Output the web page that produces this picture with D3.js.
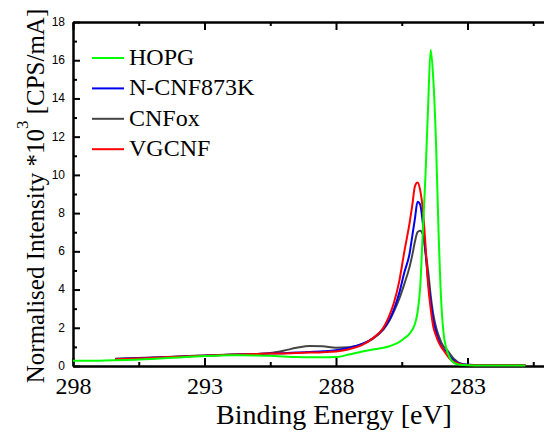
<!DOCTYPE html>
<html lang="en">
<head>
  <meta charset="UTF-8">
  <script src="https://cdn.jsdelivr.net/npm/d3@7"></script>
  <title>C1s spectra</title>
  <style>
    body { margin: 0; background: #fff; }
    svg { display: block; }
    .axis path, .axis line { stroke: #000; stroke-width: 2; }
    .axis text { fill: #000; }
    .xlab text { font-family: "Liberation Serif", "Times New Roman", serif; font-size: 24px; }
    .ylab text { font-family: "Liberation Sans", Arial, sans-serif; font-size: 12px; }
    .title { font-family: "Liberation Serif", "Times New Roman", serif; fill: #000; }
    .curve { fill: none; stroke-width: 2; stroke-linejoin: round; }
  </style>
</head>
<body>
  <script>
    // binding energy grid (eV), shared by all series
    const energy = [298, 297, 296.4, 295, 294, 293, 292, 291, 290.5, 290, 289.5, 289, 288.5, 288, 287.5, 287,
      286.6, 286.2, 286.0, 285.8, 285.6, 285.4, 285.2, 285.1, 285.0, 284.9, 284.8, 284.7, 284.6, 284.5,
      284.4, 284.3, 284.2, 284.1, 284.0, 283.9, 283.8, 283.7, 283.5, 283.3, 283.0, 282.5, 282, 281.5, 280.8];

    const hopg = [0.27, 0.28, 0.3, 0.37, 0.45, 0.52, 0.56, 0.55, 0.53, 0.5, 0.47, 0.46, 0.46, 0.47, 0.6, 0.76,
      0.86, 0.95, 1.02, 1.12, 1.25, 1.45, 1.7, 1.9, 2.2, 2.8, 4.1, 7.0, 9.9, 13.5,
      16.55, 15.0, 11.8, 7.0, 3.4, 1.6, 0.9, 0.5, 0.15, 0.07, 0.04, 0.03, 0.03, 0.03, 0.03];
    const ncnf = [null, null, 0.36, 0.43, 0.49, 0.54, 0.59, 0.63, 0.65, 0.67, 0.7, 0.73, 0.77, 0.83, 0.95, 1.15,
      1.45, 1.95, 2.35, 2.95, 3.8, 4.9, 5.9, 6.8, 7.7, 8.6, 8.45, 7.5, 6.0, 4.5,
      3.4, 2.4, 1.8, 1.35, 1.05, 0.85, 0.78, 0.55, 0.27, 0.13, 0.06, 0.04, 0.04, 0.04, 0.04];
    const cnfox = [null, null, 0.38, 0.44, 0.5, 0.55, 0.6, 0.63, 0.68, 0.8, 0.95, 1.05, 1.03, 0.96, 0.98, 1.15,
      1.42, 1.9, 2.3, 2.85, 3.5, 4.3, 5.2, 5.8, 6.5, 7.0, 7.08, 6.9, 6.0, 5.0,
      3.7, 2.7, 2.06, 1.6, 1.25, 1.0, 0.88, 0.7, 0.35, 0.15, 0.06, 0.05, 0.05, 0.05, 0.05];
    const vgcnf = [null, null, 0.35, 0.42, 0.49, 0.54, 0.59, 0.63, 0.65, 0.66, 0.68, 0.7, 0.72, 0.76, 0.88, 1.1,
      1.45, 2.0, 2.55, 3.3, 4.4, 6.0, 7.5, 8.4, 9.4, 9.6, 9.2, 8.2, 6.4, 4.3,
      3.0, 2.05, 1.6, 1.25, 1.0, 0.8, 0.6, 0.42, 0.22, 0.11, 0.05, 0.04, 0.04, 0.04, 0.04];

    const seriesNames = ["HOPG", "N-CNF873K", "CNFox", "VGCNF"];
    const seriesValues = [hopg, ncnf, cnfox, vgcnf];
    const seriesColors = ["#00ff00", "#0000ee", "#444444", "#ff0000"];
    const drawOrder = [2, 1, 3, 0];

    const xMajor = [298, 293, 288, 283];
    const xMinor = [295.5, 290.5, 285.5, 280.5];
    const yMajor = d3.range(0, 19, 2);
    const yMinor = d3.range(1, 18, 2);

    const width = 544, height = 435;
    const plotLeft = 73, plotTop = 22, plotBottom = 366;

    const x = d3.scaleLinear().domain([298, 278]).range([plotLeft, plotLeft + 20 * 26.3]);
    const y = d3.scaleLinear().domain([0, 18]).range([plotBottom, plotTop]);

    const svg = d3.select("body").append("svg")
      .attr("width", width).attr("height", height);

    // axes, ticks pointing inwards
    svg.append("g").attr("class", "axis xlab")
      .attr("transform", `translate(0,${plotBottom})`)
      .call(d3.axisBottom(x).tickValues(xMajor).tickSize(-8).tickSizeOuter(0).tickPadding(11).tickFormat(d3.format("d")));
    svg.append("g").attr("class", "axis")
      .attr("transform", `translate(0,${plotBottom})`)
      .call(d3.axisBottom(x).tickValues(xMinor).tickSize(-4).tickSizeOuter(0).tickFormat(""));
    svg.append("g").attr("class", "axis")
      .attr("transform", `translate(0,${plotTop})`)
      .call(d3.axisTop(x).tickValues(xMajor).tickSize(-8).tickSizeOuter(0).tickFormat(""));
    svg.append("g").attr("class", "axis")
      .attr("transform", `translate(0,${plotTop})`)
      .call(d3.axisTop(x).tickValues(xMinor).tickSize(-4).tickSizeOuter(0).tickFormat(""));
    svg.append("g").attr("class", "axis ylab")
      .attr("transform", `translate(${plotLeft},0)`)
      .call(d3.axisLeft(y).tickValues(yMajor).tickSize(-7).tickSizeOuter(0).tickPadding(8))
      .selectAll("text").attr("dy", "0.28em");
    svg.append("g").attr("class", "axis")
      .attr("transform", `translate(${plotLeft},0)`)
      .call(d3.axisLeft(y).tickValues(yMinor).tickSize(-4).tickSizeOuter(0).tickFormat(""));

    // curves
    const line = d3.line()
      .defined(d => d[1] != null)
      .x(d => x(d[0]))
      .y(d => y(d[1]))
      .curve(d3.curveMonotoneX);

    svg.append("g").selectAll("path")
      .data(drawOrder)
      .join("path")
      .attr("class", "curve")
      .attr("stroke", i => seriesColors[i])
      .attr("d", i => line(energy.map((e, k) => [e, seriesValues[i][k]])));

    // legend
    const legend = svg.append("g").selectAll("g")
      .data(seriesNames)
      .join("g")
      .attr("transform", (d, i) => `translate(92,${58 + i * 30.4})`);
    legend.append("line")
      .attr("x1", 0).attr("x2", 32)
      .attr("stroke", (d, i) => seriesColors[i])
      .attr("stroke-width", 2);
    legend.append("text")
      .attr("class", "title")
      .attr("x", 37).attr("y", 7)
      .style("font-size", "24px")
      .text(d => d);

    // axis titles
    svg.append("text").attr("class", "title")
      .attr("x", 334).attr("y", 424)
      .attr("text-anchor", "middle")
      .style("font-size", "28px")
      .text("Binding Energy [eV]");

    const yt = svg.append("text").attr("class", "title")
      .attr("transform", "translate(44,196) rotate(-90)")
      .attr("text-anchor", "middle")
      .style("font-size", "25px");
    yt.append("tspan").text("Normalised Intensity *10");
    yt.append("tspan").attr("dy", -16).style("font-size", "17px").text("3");
    yt.append("tspan").attr("dy", 16).text(" [CPS/mA]");
  </script>
</body>
</html>
